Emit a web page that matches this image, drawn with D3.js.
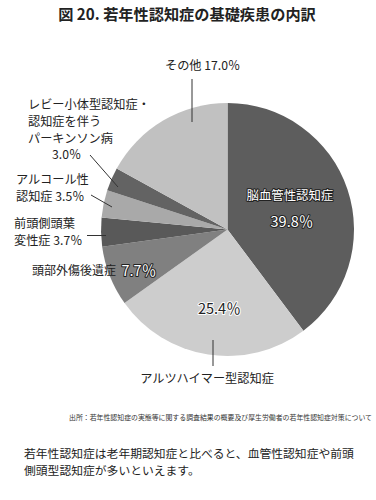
<!DOCTYPE html>
<html>
<head>
<meta charset="utf-8">
<script src="https://cdn.jsdelivr.net/npm/d3@7"></script>
<style>
  body { margin: 0; background: #fff; }
  text { font-family: "Noto Sans CJK JP", "Noto Sans", sans-serif; }
</style>
</head>
<body>
<div id="chart"></div>
<script>
var categories = ["脳血管性認知症", "アルツハイマー型認知症", "頭部外傷後遺症", "前頭側頭葉変性症", "アルコール性認知症", "レビー小体型認知症・認知症を伴うパーキンソン病", "その他"];
var values = [39.8, 25.4, 7.7, 3.7, 3.5, 3.0, 17.0];
var colors = ["#5d5d5d", "#cdcdcd", "#808080", "#595959", "#a9a9a9", "#636363", "#c1c1c1"];

var width = 376, height = 500;
var cx = 227.5, cy = 229.5, radius = 126.5;

var svg = d3.select("#chart").append("svg")
    .attr("width", width)
    .attr("height", height);

// title
svg.append("text")
    .attr("x", 187).attr("y", 20)
    .attr("text-anchor", "middle")
    .attr("font-size", 15.2)
    .attr("font-weight", 700)
    .attr("fill", "#222")
    .text("図 20. 若年性認知症の基礎疾患の内訳");

var pie = d3.pie().sort(null).value(d => d.v);
var data = categories.map((c, i) => ({name: c, v: values[i], color: colors[i]}));
var arcs = pie(data);

var arc = d3.arc().innerRadius(0).outerRadius(radius);

var g = svg.append("g").attr("transform", "translate(" + cx + "," + cy + ")");

g.selectAll("path").data(arcs).enter()
    .append("path")
    .attr("d", arc)
    .attr("fill", d => d.data.color);

function fmt(v) { return v.toFixed(1) + "％"; }

// inside labels (outlined)
function outlined(sel, fill, stroke) {
    return sel.attr("fill", fill)
        .attr("stroke", stroke)
        .attr("stroke-width", 2)
        .attr("stroke-linejoin", "round")
        .attr("paint-order", "stroke");
}

var labelArc = d3.arc().innerRadius(radius * 0.52).outerRadius(radius * 0.52);
var c0 = labelArc.centroid(arcs[0]);
outlined(g.append("text")
    .attr("x", c0[0]).attr("y", c0[1] - 9)
    .attr("text-anchor", "middle")
    .attr("font-size", 12.4)
    .text(categories[0]), "#fff", "#222");
outlined(g.append("text")
    .attr("x", c0[0] + 2).attr("y", c0[1] + 18)
    .attr("text-anchor", "middle")
    .attr("font-size", 14.5)
    .text(fmt(values[0])), "#fff", "#222");

var alzArc = d3.arc().innerRadius(radius * 0.63).outerRadius(radius * 0.63);
var c1 = alzArc.centroid(arcs[1]);
outlined(g.append("text")
    .attr("x", c1[0] + 4).attr("y", c1[1] + 6)
    .attr("text-anchor", "middle")
    .attr("font-size", 14.5)
    .text(fmt(values[1])), "#222", "#fff");

// outside labels
var outside = svg.append("g").attr("font-size", 12.2).attr("fill", "#222");

function lines(x, y, arr, step) {
    arr.forEach((s, i) => {
        outside.append("text")
            .attr("x", typeof s === "object" ? s.x : x)
            .attr("y", y + i * step)
            .text(typeof s === "object" ? s.t : s);
    });
}

function leader(x1, y1, x2, y2) {
    svg.append("line")
        .attr("x1", x1).attr("y1", y1).attr("x2", x2).attr("y2", y2)
        .attr("stroke", "#333").attr("stroke-width", 1);
}

// アルツハイマー
outside.append("text").attr("x", 207).attr("y", 383)
    .attr("text-anchor", "middle").text(categories[1]);
leader(213, 340, 213, 366);

// 頭部外傷後遺症
outside.append("text").attr("x", 32).attr("y", 275).attr("font-size", 12).text(categories[2]);
outlined(svg.append("text")
    .attr("x", 121.5).attr("y", 275.5)
    .attr("font-size", 14.5)
    .text(fmt(values[2])), "#fff", "#222");

// 前頭側頭葉変性症
lines(14, 228, ["前頭側頭葉", "変性症 " + fmt(values[3])], 17);
leader(87, 235.5, 106, 235.5);

// アルコール性
lines(16, 184, ["アルコール性", "認知症 " + fmt(values[4])], 17);
leader(91, 195, 112, 207);

// レビー
lines(28, 109, ["レビー小体型認知症・", "認知症を伴う", "パーキンソン病", {x: 52, t: fmt(values[5])}], 16.8);
leader(90, 155, 118, 187);

// その他
outside.append("text").attr("x", 165).attr("y", 70).text("その他 " + fmt(values[6]));
leader(192, 79, 192, 122);

// source
svg.append("text")
    .attr("x", 372).attr("y", 419.5)
    .attr("text-anchor", "end")
    .attr("font-size", 6.9)
    .attr("fill", "#333")
    .text("出所：若年性認知症の実態等に関する調査結果の概要及び厚生労働者の若年性認知症対策について");

// body text
svg.append("text").attr("font-size", 11.8).attr("fill", "#222")
    .attr("x", 24).attr("y", 457.5).text("若年性認知症は老年期認知症と比べると、血管性認知症や前頭");
svg.append("text").attr("font-size", 11.8).attr("fill", "#222")
    .attr("x", 24).attr("y", 475).text("側頭型認知症が多いといえます。");
</script>
</body>
</html>
